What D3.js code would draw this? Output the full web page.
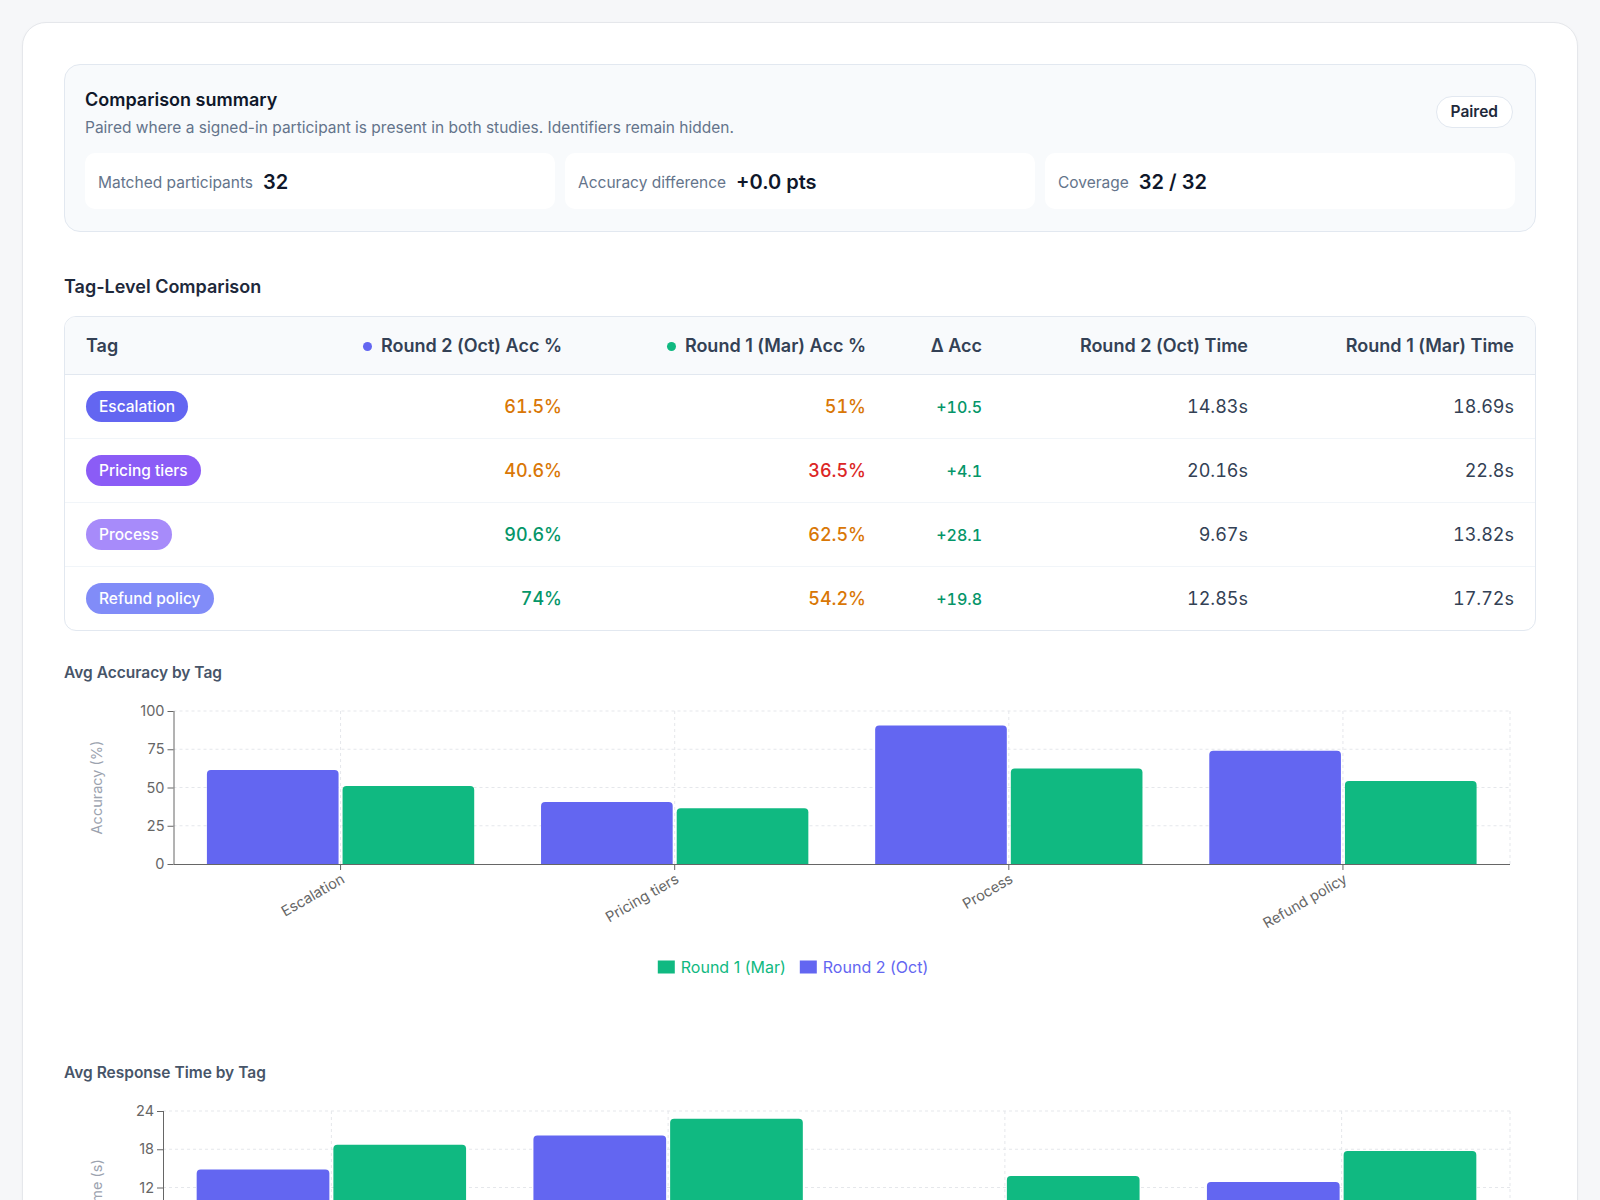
<!DOCTYPE html>
<html>
<head>
<meta charset="utf-8">
<script src="https://cdn.jsdelivr.net/npm/d3@7"></script>
<style>
  body { margin: 0; background: #f6f7f9; font-family: Inter, "Noto Sans", sans-serif; color: #0f172a; }
  #page { position: relative; width: 1600px; height: 1560px; }
  .outer { position: absolute; left: 22px; top: 22px; width: 1554px; height: 1600px; background: #fff;
           border: 1px solid #e5e7eb; border-radius: 24px; box-shadow: 0 1px 3px rgba(15,23,42,0.04); }
  .summary { position: absolute; left: 64px; top: 64px; width: 1430px; height: 124px; padding: 23px 20px 19px 20px;
             background: #f8fafc; border: 1px solid #e2e8f0; border-radius: 16px; }
  .summary h3 { margin: 0; font-size: 18px; line-height: 24px; font-weight: 600; color: #0f172a; }
  .summary p { margin: 4px 0 0 0; font-size: 15.5px; line-height: 23px; color: #64748b; }
  .badge { position: absolute; right: 22px; top: 31px; height: 30px; line-height: 30px; padding: 0 14px;
           background: #fff; border: 1px solid #e2e8f0; border-radius: 16px; font-size: 15.5px; font-weight: 600; color: #1e293b; }
  .stats { display: grid; grid-template-columns: 1fr 1fr 1fr; gap: 10px; margin-top: 14px; }
  .stat { background: #fff; border-radius: 10px; height: 56px; display: flex; align-items: center; padding: 0 13px; }
  .stat .lab { font-size: 15.5px; color: #64748b; padding-top: 3px; }
  .stat .val { font-size: 20px; font-weight: 600; color: #0f172a; margin-left: 10px; padding-top: 2px; }
  .sec { position: absolute; left: 64px; font-size: 18px; font-weight: 600; color: #1e293b; line-height: 24px; }
  .ctitle { position: absolute; left: 64px; font-size: 15.5px; font-weight: 600; color: #475569; line-height: 20px; }
  .tablewrap { position: absolute; left: 64px; top: 316px; width: 1470px; border: 1px solid #e2e8f0; border-radius: 12px; overflow: hidden; }
  table { border-collapse: collapse; table-layout: fixed; width: 1470px; }
  th { height: 57px; background: #f8fafc; border-bottom: 1px solid #e2e8f0; font-size: 18px; font-weight: 600; color: #334155; padding: 0; }
  td { height: 63px; border-bottom: 1px solid #f1f5f9; font-size: 18px; padding: 0; color: #334155; font-variant-numeric: tabular-nums; }
  tr:last-child td { border-bottom: none; }
  th.first, td.first { text-align: left; padding-left: 21px; }
  th.last, td.last { padding-right: 21px; }
  .r { text-align: right; }
  .dot { display: inline-block; width: 9px; height: 9px; border-radius: 50%; margin-right: 9px; vertical-align: 1px; }
  .pill { display: inline-block; height: 31px; line-height: 31px; padding: 0 13px; border-radius: 16px; color: #fff; font-size: 15.5px; font-weight: 500; font-variant-numeric: normal; }
  svg { position: absolute; left: 64px; font-family: Inter, "Noto Sans", sans-serif; }
</style>
</head>
<body>
<div id="page">
  <div class="outer"></div>
  <div class="summary">
    <h3>Comparison summary</h3>
    <p>Paired where a signed-in participant is present in both studies. Identifiers remain hidden.</p>
    <div class="badge">Paired</div>
    <div class="stats" id="stats"></div>
  </div>
  <div class="sec" style="top:275px">Tag-Level Comparison</div>
  <div class="tablewrap"><table id="tbl"></table></div>
  <div class="ctitle" style="top:663px">Avg Accuracy by Tag</div>
  <svg id="accChart" width="1472" height="310" style="top:690px"></svg>
  <div class="ctitle" style="top:1063px">Avg Response Time by Tag</div>
  <svg id="timeChart" width="1472" height="310" style="top:1090px"></svg>
</div>
<script>
// values
const tags = ["Escalation", "Pricing tiers", "Process", "Refund policy"];
const accRound2 = [61.5, 40.6, 90.6, 74];
const accRound1 = [51, 36.5, 62.5, 54.2];
const timeRound2 = [14.83, 20.16, 9.67, 12.85];
const timeRound1 = [18.69, 22.8, 13.82, 17.72];
const accTicks = [0, 25, 50, 75, 100];
const timeTicks = [0, 6, 12, 18, 24];
const statLabels = ["Matched participants", "Accuracy difference", "Coverage"];
const statValues = ["32", "+0.0 pts", "32 / 32"];
const headers = ["Tag", "Round 2 (Oct) Acc %", "Round 1 (Mar) Acc %", "\u0394 Acc", "Round 2 (Oct) Time", "Round 1 (Mar) Time"];
const seriesNames = ["Round 2 (Oct)", "Round 1 (Mar)"];

const C2 = "#6366f1", C1 = "#10b981";
const pillColors = ["#6366f1", "#8b5cf6", "#a78bfa", "#818cf8"];
const colWidths = [235, 262, 304, 116, 266, 287];

const accColor = v => v >= 70 ? "#059669" : v >= 40 ? "#d97706" : "#dc2626";

// summary stats
const st = d3.select("#stats").selectAll(".stat").data(statLabels).join("div").attr("class", "stat");
st.append("span").attr("class", "lab").text(d => d);
st.append("span").attr("class", "val").text((d, i) => statValues[i]);

// table
const tbl = d3.select("#tbl");
tbl.append("colgroup").selectAll("col").data(colWidths).join("col").style("width", d => d + "px");
const hr = tbl.append("thead").append("tr");
hr.selectAll("th").data(headers).join("th")
  .attr("class", (d, i) => (i === 0 ? "first" : "r") + (i === headers.length - 1 ? " last" : ""))
  .each(function (d, i) {
    const th = d3.select(this);
    if (i === 1 || i === 2) th.append("span").attr("class", "dot").style("background", i === 1 ? C2 : C1);
    th.append("span").text(d);
  });

const rows = tbl.append("tbody").selectAll("tr").data(tags).join("tr");
rows.each(function (t, i) {
  const tr = d3.select(this);
  tr.append("td").attr("class", "first").append("span").attr("class", "pill").style("background", pillColors[i]).text(t);
  tr.append("td").attr("class", "r").style("color", accColor(accRound2[i])).style("font-weight", 500).text(accRound2[i] + "%");
  tr.append("td").attr("class", "r").style("color", accColor(accRound1[i])).style("font-weight", 500).text(accRound1[i] + "%");
  const dlt = accRound2[i] - accRound1[i];
  tr.append("td").attr("class", "r").style("color", dlt >= 0 ? "#059669" : "#dc2626").style("font-size", "16px").style("font-weight", 500)
    .text((dlt >= 0 ? "+" : "") + dlt.toFixed(1));
  tr.append("td").attr("class", "r").text(timeRound2[i] + "s");
  tr.append("td").attr("class", "r last").text(timeRound1[i] + "s");
});

function topRounded(x, y, w, h, r) {
  r = Math.min(r, h, w / 2);
  return `M${x},${y + h}V${y + r}Q${x},${y} ${x + r},${y}H${x + w - r}Q${x + w},${y} ${x + w},${y + r}V${y + h}Z`;
}

function drawChart(sel, s2, s1, ticks, yLabel, marginLeft) {
  const svg = d3.select(sel);
  const W = +svg.attr("width");
  const m = { top: 21, right: 26, left: marginLeft };
  const ph = 153;
  const pw = W - m.left - m.right;
  const g = svg.append("g").attr("transform", `translate(${m.left},${m.top})`);

  const x = d3.scaleBand().domain(tags).range([0, pw]).paddingInner(0).paddingOuter(0);
  const y = d3.scaleLinear().domain([0, d3.max(ticks)]).range([ph, 0]);
  const inner = 0.1 * x.bandwidth();
  const barW = (x.bandwidth() - 2 * inner - 4) / 2;

  // grid
  const grid = g.append("g").attr("stroke", "#e5e7eb").attr("stroke-dasharray", "3 3");
  grid.selectAll(".h").data(ticks.slice(1)).join("line")
    .attr("x1", 0).attr("x2", pw).attr("y1", d => y(d)).attr("y2", d => y(d));
  grid.selectAll(".v").data(tags).join("line")
    .attr("x1", d => x(d) + x.bandwidth() / 2).attr("x2", d => x(d) + x.bandwidth() / 2).attr("y1", 0).attr("y2", ph);
  grid.append("line").attr("x1", pw).attr("x2", pw).attr("y1", 0).attr("y2", ph);

  // bars
  const series = [{ vals: s2, color: C2, k: 0 }, { vals: s1, color: C1, k: 1 }];
  series.forEach(s => {
    g.append("g").selectAll("path").data(tags).join("path")
      .attr("fill", s.color)
      .attr("d", (d, i) => {
        const bx = x(d) + inner + s.k * (barW + 4);
        return topRounded(bx, y(s.vals[i]), barW, ph - y(s.vals[i]), 4);
      });
  });

  // axes
  const ya = g.append("g").call(d3.axisLeft(y).tickValues(ticks).tickSize(6).tickPadding(3));
  const xa = g.append("g").attr("transform", `translate(0,${ph})`).call(d3.axisBottom(x).tickSize(6).tickFormat(""));
  [ya, xa].forEach(a => {
    a.select(".domain").attr("stroke", "#666");
    a.selectAll(".tick line").attr("stroke", "#666");
  });
  xa.select(".domain").attr("d", `M0,0.5H${pw}`);
  ya.select(".domain").attr("d", `M0.5,0V${ph}`);
  ya.selectAll("text").attr("fill", "#666").style("font-size", "14.5px").style("font-family", "Inter");

  g.append("g").selectAll("text").data(tags).join("text")
    .attr("transform", d => `translate(${x(d) + x.bandwidth() / 2},${ph + 9}) rotate(-30)`)
    .attr("text-anchor", "end").attr("dy", "0.71em")
    .attr("fill", "#666").style("font-size", "14.5px").text(d => d);

  svg.append("text")
    .attr("transform", `translate(33,${m.top + ph / 2}) rotate(-90)`)
    .attr("text-anchor", "middle").attr("dy", "0.35em")
    .attr("fill", "#9ca3af").style("font-size", "14.5px").text(yLabel);

  // legend: Round 1 first, then Round 2
  const legItems = [{ name: seriesNames[1], color: C1 }, { name: seriesNames[0], color: C2 }];
  const leg = svg.append("g").attr("transform", `translate(0,277)`);
  const items = leg.selectAll("g").data(legItems).join("g");
  items.append("rect").attr("y", -6.5).attr("width", 17).attr("height", 13).attr("fill", d => d.color);
  items.append("text").attr("x", 23).attr("dy", "0.35em").attr("fill", d => d.color)
    .style("font-size", "16px").text(d => d.name);
  let off = 0;
  const widths = [];
  items.each(function () { widths.push(this.getBBox().width); });
  const total = d3.sum(widths) + 14 * (widths.length - 1);
  const start = 729 - total / 2;
  items.attr("transform", (d, i) => {
    const t = `translate(${start + off},0)`;
    off += widths[i] + 14;
    return t;
  });
}

drawChart("#accChart", accRound2, accRound1, accTicks, "Accuracy (%)", 109.5);
drawChart("#timeChart", timeRound2, timeRound1, timeTicks, "Time (s)", 99);
</script>
</body>
</html>
